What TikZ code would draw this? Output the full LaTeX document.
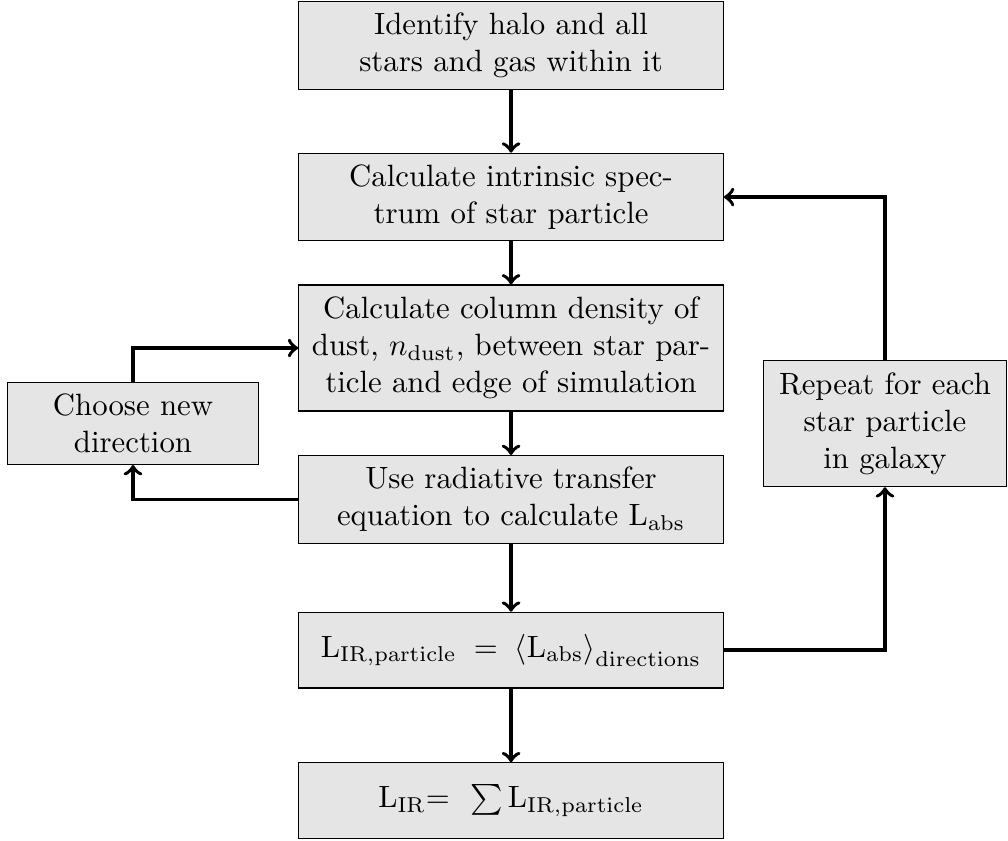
\documentclass[tikz,border=0pt]{standalone}
\usepackage{pgf,tikz}
\usepackage{amsmath,amsfonts,amssymb}
\definecolor{boxgray}{RGB}{229,229,229}

\begin{document}
\begin{tikzpicture}[
  block/.style={draw, fill=boxgray, align=center, inner sep=0pt},
  mainblock/.style={block, minimum width=4.845cm},
  flow/.style={very thick, ->}]
\useasboundingbox (0,0) rectangle (11.505,-9.588);
\node [mainblock, minimum height=0.999cm] (ident) at (5.833,-0.518) {Identify halo and all\\ stars and gas within it};
\node [mainblock, minimum height=0.999cm] (spec) at (5.833,-2.249) {Calculate intrinsic spec-\\ trum of star particle};
\node [mainblock, minimum height=1.438cm] (column) at (5.833,-3.972) {Calculate column density of\\ dust, $n_{\mathrm{dust}}$, between star par-\\ ticle and edge of simulation};
\node [mainblock, minimum height=0.999cm] (rad) at (5.833,-5.700) {Use radiative transfer\\ equation to calculate L$_{\mathrm{abs}}$};
\node [mainblock, minimum height=0.864cm] (lpart) at (5.833,-7.421) {$\mathrm{L}_{\mathrm{IR,particle}}\;=\;\left\langle\mathrm{L}_{\mathrm{abs}}\right\rangle_{\mathrm{directions}}$};
\node [mainblock, minimum height=0.864cm] (lir) at (5.833,-9.139) {L$_{\mathrm{IR}}$=~ $\sum\,$L$_{\mathrm{IR,particle}}$};
\node [block, minimum width=2.870cm, minimum height=0.931cm] (choose) at (1.518,-4.835) {Choose new\\ direction};
\node [block, minimum width=2.780cm, minimum height=1.438cm] (repeat) at (10.101,-4.835) {Repeat for each\\ star particle\\ in galaxy};

\draw [flow] (ident) -- (spec);
\draw [flow] (spec) -- (column);
\draw [flow] (column) -- (rad);
\draw [flow] (rad) -- (lpart);
\draw [flow] (lpart) -- (lir);
\draw [flow] (choose) |- (column);
\draw [flow] (rad) -| (choose);
\draw [flow] (lpart) -| (repeat);
\draw [flow] (repeat) |- (spec);

\end{tikzpicture}
\end{document}
